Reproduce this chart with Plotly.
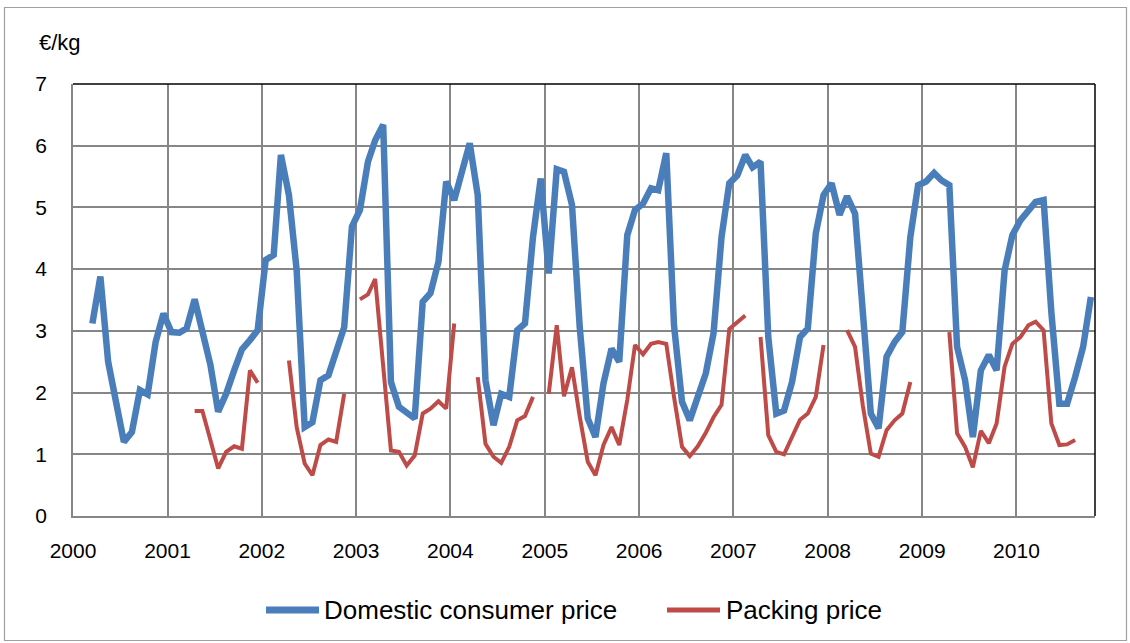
import pandas as pd
import plotly.graph_objects as go

# Monthly data, domestic consumer price from Mar 2000 to Oct 2010
domestic_start = "2000-03-01"
domestic_price = [
    3.12, 3.88, 2.50, 1.82, 1.20, 1.36, 2.04, 1.97, 2.82, 3.28,            # 2000 Mar-Dec
    2.98, 2.97, 3.04, 3.51, 3.00, 2.45, 1.69, 1.98, 2.36, 2.70, 2.85, 3.01,  # 2001
    4.15, 4.23, 5.85, 5.20, 3.98, 1.44, 1.52, 2.20, 2.28, 2.69, 3.06, 4.69,  # 2002
    4.96, 5.74, 6.09, 6.34, 2.17, 1.77, 1.69, 1.58, 3.47, 3.61, 4.12, 5.42,  # 2003
    5.12, 5.58, 6.04, 5.20, 2.20, 1.47, 1.98, 1.93, 3.01, 3.12, 4.52, 5.47,  # 2004
    3.93, 5.62, 5.58, 5.04, 3.06, 1.58, 1.28, 2.15, 2.71, 2.50, 4.55, 4.96,  # 2005
    5.06, 5.31, 5.28, 5.88, 3.09, 1.85, 1.55, 1.93, 2.31, 2.96, 4.52, 5.39,  # 2006
    5.52, 5.85, 5.65, 5.74, 2.90, 1.66, 1.71, 2.17, 2.90, 3.04, 4.58, 5.20,  # 2007
    5.39, 4.88, 5.18, 4.90, 3.30, 1.66, 1.42, 2.58, 2.82, 2.98, 4.52, 5.36,  # 2008
    5.42, 5.56, 5.44, 5.36, 2.74, 2.20, 1.28, 2.36, 2.61, 2.36, 3.98, 4.55,  # 2009
    4.79, 4.96, 5.09, 5.12, 3.30, 1.82, 1.82, 2.25, 2.74, 3.55,              # 2010 Jan-Oct
]

# Packing price from Apr 2001 to Aug 2010 (None = no data)
packing_start = "2001-04-01"
packing_price = [
    1.70, 1.70, 1.23, 0.77, 1.04, 1.13, 1.09, 2.36, 2.16,                    # 2001 Apr-Dec
    None, None, None, 2.52, 1.44, 0.85, 0.66, 1.15, 1.24, 1.20, 1.98, None,  # 2002
    3.51, 3.59, 3.84, 2.36, 1.06, 1.04, 0.82, 0.98, 1.66, 1.74, 1.86, 1.74,  # 2003
    3.12, None, None, 2.25, 1.17, 0.96, 0.86, 1.12, 1.55, 1.62, 1.93, None,  # 2004
    1.98, 3.09, 1.94, 2.41, 1.61, 0.88, 0.66, 1.15, 1.44, 1.15, 1.88, 2.77,  # 2005
    2.62, 2.79, 2.82, 2.79, 1.93, 1.12, 0.97, 1.13, 1.35, 1.60, 1.80, 3.03,  # 2006
    3.14, 3.25, None, 2.90, 1.31, 1.04, 1.00, 1.28, 1.56, 1.66, 1.93, 2.77,  # 2007
    None, None, 3.01, 2.74, 1.79, 1.01, 0.96, 1.39, 1.55, 1.66, 2.17, None,  # 2008
    None, None, None, 2.98, 1.34, 1.12, 0.79, 1.38, 1.18, 1.50, 2.42, 2.79,  # 2009
    2.90, 3.09, 3.15, 3.01, 1.50, 1.15, 1.16, 1.23,                          # 2010 Jan-Aug
]

year_ticks = [str(y) for y in range(2000, 2011)]
y_ticks = [0, 1, 2, 3, 4, 5, 6, 7]
unit_label = "€/kg"
series_names = ["Domestic consumer price", "Packing price"]

mid = pd.Timedelta(days=15)
x_dom = pd.date_range(domestic_start, periods=len(domestic_price), freq="MS") + mid
x_pack = pd.date_range(packing_start, periods=len(packing_price), freq="MS") + mid

BLUE = "#4A7EBB"
RED = "#BE4B48"
GRID = "#868686"
FONT = "Liberation Sans, Arial, sans-serif"

fig = go.Figure()
fig.add_trace(go.Scatter(x=x_dom, y=domestic_price, mode="lines", name=series_names[0],
                         line=dict(color=BLUE, width=6.5), connectgaps=False, showlegend=False))
fig.add_trace(go.Scatter(x=x_pack, y=packing_price, mode="lines", name=series_names[1],
                         line=dict(color=RED, width=4), connectgaps=False, showlegend=False))

L, R, T, B = 73, 35, 84, 127
W, H = 1130, 643
pw, ph = W - L - R, H - T - B

def px_x(px):
    return (px - L) / pw

def px_y(py):
    return (H - B - py) / ph

# manual legend (line samples + labels), Excel style
LEG_Y = 610
legend_items = [
    (series_names[0], BLUE, 7, 266, 319, 322),
    (series_names[1], RED, 5, 667, 720, 724),
]
shapes = [
    dict(type="line", xref="paper", yref="paper", x0=0, x1=1, y0=1, y1=1,
         line=dict(color="black", width=1.5)),
    dict(type="line", xref="paper", yref="paper", x0=1, x1=1, y0=0, y1=1,
         line=dict(color="black", width=1.5)),
    dict(type="rect", xref="paper", yref="paper",
         x0=px_x(4.5), x1=px_x(1126.5), y0=px_y(640.5), y1=px_y(7.5),
         line=dict(color="#A0A0A0", width=1.2), layer="below"),
]
annotations = [dict(text=unit_label, xref="paper", yref="paper",
                    x=px_x(37), y=px_y(43), xanchor="left", yanchor="middle",
                    showarrow=False, font=dict(size=22, family=FONT))]
for name, col, lw, xa, xb, xt in legend_items:
    shapes.append(dict(type="line", xref="paper", yref="paper",
                       x0=px_x(xa), x1=px_x(xb), y0=px_y(LEG_Y), y1=px_y(LEG_Y),
                       line=dict(color=col, width=lw)))
    annotations.append(dict(text=name, xref="paper", yref="paper",
                            x=px_x(xt), y=px_y(LEG_Y), xanchor="left", yanchor="middle",
                            showarrow=False, font=dict(size=26, family=FONT)))

fig.update_layout(
    width=W, height=H,
    margin=dict(l=L, r=R, t=T, b=B),
    paper_bgcolor="white", plot_bgcolor="white",
    font=dict(family=FONT, size=21, color="black"),
    showlegend=False,
    xaxis=dict(
        range=[pd.Timestamp("2000-01-01"), pd.Timestamp("2010-11-01")],
        tickvals=[pd.Timestamp(f"{y}-01-01") for y in year_ticks],
        ticktext=year_ticks,
        showgrid=True, gridcolor=GRID, gridwidth=1.5,
        showline=True, linecolor=GRID, linewidth=1.5,
        ticks="", ticklabelstandoff=15,
        tickfont=dict(size=21, family=FONT),
        zeroline=False, fixedrange=True,
    ),
    yaxis=dict(
        range=[0, 7], tickvals=y_ticks,
        showgrid=True, gridcolor=GRID, gridwidth=1.5,
        showline=True, linecolor=GRID, linewidth=1.5,
        ticks="", ticklabelstandoff=20,
        tickfont=dict(size=21, family=FONT),
        zeroline=False, fixedrange=True,
    ),
    annotations=annotations,
    shapes=shapes,
)

fig.write_html("out.html")
